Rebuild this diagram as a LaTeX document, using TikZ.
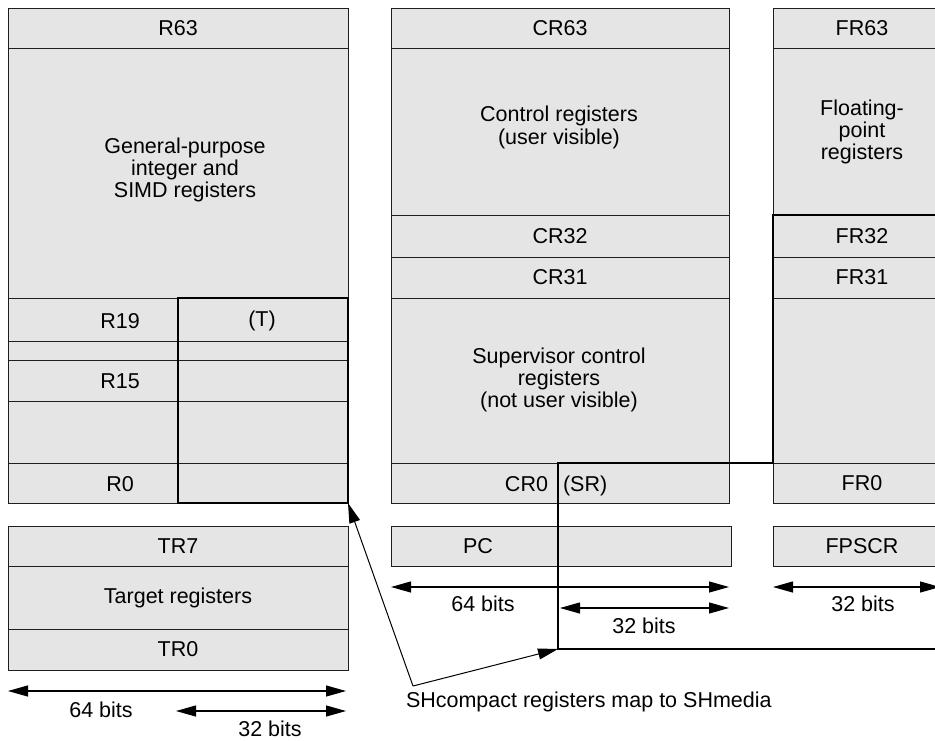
\documentclass[tikz,border=0pt]{standalone}
\usepackage{fontspec}
\setmainfont{Liberation Sans}
\usetikzlibrary{arrows.meta}
\definecolor{regfill}{RGB}{229,229,229}
\definecolor{regline}{RGB}{30,30,30}

\begin{document}
\begin{tikzpicture}[x=1pt,y=-1pt,
  every node/.style={font=\fontsize{21.5}{22.3}\selectfont, inner sep=0pt, outer sep=0pt},
  reg/.style={draw=regline, fill=regfill, line width=1pt, anchor=north west},
  txt/.style={align=center},
  heavy/.style={line width=2.2pt, draw=black},
  >={Triangle[length=20pt,width=11pt]},
  dim/.style={line width=1.1pt, <->},
  ptr/.style={line width=1pt, ->}]

\useasboundingbox (0,0) rectangle (935,740);

% ---- general-purpose register file ----
\node[reg, minimum width=340pt, minimum height=40pt]  (r63)  at (8,8)   {R63};
\node[reg, minimum width=340pt, minimum height=250pt] (gp)   at (8,48)  {};
\node[reg, minimum width=340pt, minimum height=43pt]  (r19)  at (8,298) {};
\node[reg, minimum width=340pt, minimum height=19pt]  (rgap) at (8,341) {};
\node[reg, minimum width=340pt, minimum height=41pt]  (r15)  at (8,360) {};
\node[reg, minimum width=340pt, minimum height=62pt]  (rmid) at (8,401) {};
\node[reg, minimum width=340pt, minimum height=40pt]  (r0)   at (8,463) {};
\node[txt] (gptext) at (185,170) {General-purpose\\integer and\\SIMD registers};
\node (r19t) at (120,321) {R19};
\node (r15t) at (120,381) {R15};
\node (r0t)  at (120,484) {R0};
\node[heavy, anchor=north west, minimum width=170pt, minimum height=205pt] (tbox) at (178,298) {};
\node (tlabel) at (262,321) {(T)};

% ---- target registers ----
\node[reg, minimum width=340pt, minimum height=40pt] (tr7)   at (8,526) {TR7};
\node[reg, minimum width=340pt, minimum height=63pt] (trmid) at (8,566) {Target registers};
\node[reg, minimum width=340pt, minimum height=41pt] (tr0)   at (8,629) {TR0};

% ---- control registers ----
\node[reg, minimum width=338pt, minimum height=40pt]  (cr63) at (391,8)   {CR63};
\node[reg, minimum width=338pt, minimum height=167pt] (ctrl) at (391,48)  {};
\node[reg, minimum width=338pt, minimum height=42pt]  (cr32) at (391,215) {CR32};
\node[reg, minimum width=338pt, minimum height=41pt]  (cr31) at (391,257) {CR31};
\node[reg, minimum width=338pt, minimum height=165pt] (sup)  at (391,298) {};
\node[reg, minimum width=338pt, minimum height=40pt]  (cr0)  at (391,463) {};
\node[reg, minimum width=340pt, minimum height=40pt]  (pc)   at (391,526) {};
\node[txt] (ctrltext) at (559,127.5) {Control registers\\(user visible)};
\node[txt] (suptext)  at (559,380)   {Supervisor control\\registers\\(not user visible)};
\node[anchor=base east] (cr0t) at (548,491) {CR0};
\node[anchor=base west] (srt)  at (563,491) {(SR)};
\node (pct) at (478,546) {PC};

% ---- floating-point registers ----
\node[reg, minimum width=178pt, minimum height=40pt]  (fr63)  at (773,8)   {FR63};
\node[reg, minimum width=178pt, minimum height=167pt] (fp)    at (773,48)  {};
\node[reg, minimum width=178pt, minimum height=42pt]  (fr32)  at (773,215) {FR32};
\node[reg, minimum width=178pt, minimum height=41pt]  (fr31)  at (773,257) {FR31};
\node[reg, minimum width=178pt, minimum height=165pt] (frsup) at (773,298) {};
\node[reg, minimum width=178pt, minimum height=40pt]  (fr0)   at (773,463) {FR0};
\node[reg, minimum width=178pt, minimum height=40pt]  (fpscr) at (773,526) {FPSCR};
\node[txt] (fptext) at (862,132) {Floating-\\point\\registers};

% ---- SHcompact outline across CR0/PC and the FR file ----
\coordinate (sc)    at (558,649);
\coordinate (frend) at (951,649);
\draw[heavy] (fr32.north east) -- (fr32.north west) -- (frsup.south west) -| (sc) -- (frend);

% ---- width arrows ----
\coordinate (l64a) at (8,691);   \coordinate (l64b) at (346,691);
\coordinate (l32a) at (176,711); \coordinate (l32b) at (346,711);
\coordinate (m64a) at (391,587); \coordinate (m64b) at (729,587);
\coordinate (m32a) at (560,608); \coordinate (m32b) at (729,608);
\coordinate (f32a) at (773,587); \coordinate (f32b) at (940,587);
\draw[dim] (l64a) -- (l64b);
\draw[dim] (l32a) -- (l32b);
\draw[dim] (m64a) -- (m64b);
\draw[dim] (m32a) -- (m32b);
\draw[dim] (f32a) -- (f32b);
\node (l64t) at (101,710) {64 bits};
\node (l32t) at (270,728.5) {32 bits};
\node (m64t) at (483,603.5) {64 bits};
\node (m32t) at (644,626) {32 bits};
\node (f32t) at (863,603.5) {32 bits};

% ---- mapping pointers ----
\coordinate (shv) at (413,686);
\draw[ptr] (shv) -- (tbox.south east);
\draw[ptr] (shv) -- (sc);
\node[anchor=base west] (shlabel) at (406,707) {SHcompact registers map to SHmedia};
\end{tikzpicture}
\end{document}
